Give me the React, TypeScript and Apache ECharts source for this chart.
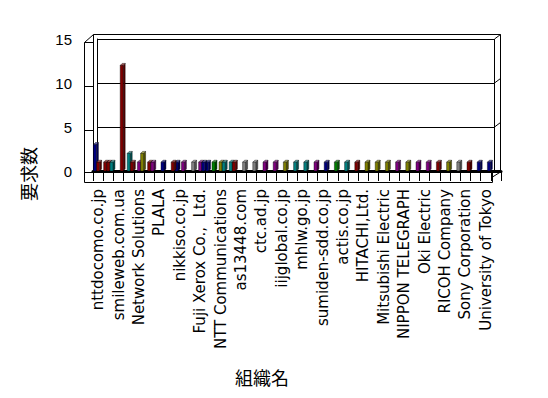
import React, { useEffect, useRef } from "react";
import * as echarts from "echarts";

// ---- data ----
const categories = [
  "nttdocomo.co.jp", "", "smileweb.com.ua", "", "Network Solutions", "",
  "PLALA", "", "nikkiso.co.jp", "", "Fuji Xerox Co.,  Ltd.", "",
  "NTT Communications", "", "as13448.com", "", "ctc.ad.jp", "",
  "iijglobal.co.jp", "", "mhlw.go.jp", "", "sumiden-sdd.co.jp", "",
  "actis.co.jp", "", "HITACHI,Ltd.", "", "Mitsubishi Electric", "",
  "NIPPON TELEGRAPH", "", "Oki Electric", "", "RICOH Company", "",
  "Sony Corporation", "", "University of Tokyo", "",
];

const yTicks = [0, 5, 10, 15];

const N = null;
// three bar slots per category
const slot0Values = [3, 1, N, N, N, N, N, N, 1, N, N, 1, N, N, N, N, N, N, N, N, N, N, N, N, N, N, N, N, N, N, N, N, N, N, N, N, N, N, N, N];
const slot0Colors = ["navy", "maroon", "", "", "", "", "", "", "navy", "", "", "navy", "", "", "", "", "", "", "", "", "", "", "", "", "", "", "", "", "", "", "", "", "", "", "", "", "", "", "", ""];
const slot1Values = [1, 1, N, 2, 1, 1, N, N, N, N, 1, N, 1, 1, N, N, N, N, N, N, N, N, N, N, N, N, N, N, N, N, N, N, N, N, N, N, N, N, N, N];
const slot1Colors = ["maroon", "maroon", "", "teal", "purple", "maroon", "", "", "", "", "purple", "", "olive", "teal", "", "", "", "", "", "", "", "", "", "", "", "", "", "", "", "", "", "", "", "", "", "", "", "", "", ""];
const slot2Values = [N, 1, 12, 1, 2, 1, 1, 1, 1, 1, 1, 1, 1, 1, 1, 1, 1, 1, 1, 1, 1, 1, 1, 1, 1, 1, 1, 1, 1, 1, 1, 1, 1, 1, 1, 1, 1, 1, 1, N];
const slot2Colors = ["", "teal", "maroon", "maroon", "olive", "purple", "navy", "maroon", "purple", "gray", "navy", "green", "teal", "maroon", "gray", "gray", "purple", "purple", "olive", "teal", "teal", "purple", "navy", "green", "teal", "maroon", "olive", "olive", "olive", "purple", "olive", "purple", "purple", "maroon", "olive", "gray", "maroon", "navy", "navy", ""];

const palette: Record<string, string> = {
  navy: "#000080",
  maroon: "#800000",
  olive: "#808000",
  purple: "#800080",
  teal: "#008080",
  gray: "#808080",
  green: "#008000",
};

function shade(hex: string, f: number): string {
  const n = parseInt(hex.slice(1), 16);
  let r = (n >> 16) & 255, g = (n >> 8) & 255, b = n & 255;
  if (f < 0) {
    r = Math.round(r * (1 + f)); g = Math.round(g * (1 + f)); b = Math.round(b * (1 + f));
  } else {
    r = Math.round(r + (255 - r) * f); g = Math.round(g + (255 - g) * f); b = Math.round(b + (255 - b) * f);
  }
  return "rgb(" + r + "," + g + "," + b + ")";
}

function toData(values: (number | null)[], colors: string[]) {
  const out: any[] = [];
  values.forEach((v, i) => {
    if (v != null) out.push({ value: [i, v], itemStyle: { color: palette[colors[i]] } });
  });
  return out;
}

const makeRender = (slot: number) => (params: any, api: any) => {
  const cat = api.value(0);
  const val = api.value(1);
  const top = api.coord([cat, val]);
  const base = api.coord([cat, 0]);
  const catW = api.size([1, 0])[0];
  const step = catW / 3.2;
  const bw = 3;
  const cx = top[0] + (slot - 1) * step;
  const x0 = cx - bw / 2;
  const x1 = cx + bw / 2;
  const dx = 2, dy = -2;
  const color = api.visual("color") as string;
  const yt = top[1], yb = base[1];
  return {
    type: "group",
    children: [
      {
        type: "polygon",
        shape: { points: [[x1, yt], [x1 + dx, yt + dy], [x1 + dx, yb + dy], [x1, yb]] },
        style: { fill: shade(color, -0.35), stroke: "#000", lineWidth: 0.4 },
      },
      {
        type: "polygon",
        shape: { points: [[x0, yt], [x0 + dx, yt + dy], [x1 + dx, yt + dy], [x1, yt]] },
        style: { fill: shade(color, 0.35), stroke: "#000", lineWidth: 0.4 },
      },
      {
        type: "rect",
        shape: { x: x0, y: yt, width: bw, height: yb - yt },
        style: { fill: color, stroke: "#000", lineWidth: 0.4 },
      },
    ],
  };
};

const L = (x1: number, y1: number, x2: number, y2: number) => ({
  type: "line",
  shape: { x1, y1, x2, y2 },
  style: { stroke: "#000", lineWidth: 1 },
  silent: true,
});

export default function App() {
  const ref = useRef<HTMLDivElement>(null);
  useEffect(() => {
    document.body.style.margin = "0";
    const chart = echarts.init(ref.current!, null, { renderer: "svg" });
    const labelFont = { fontFamily: "DejaVu Sans", fontSize: 15, color: "#000" };
    chart.setOption({
      animation: false,
      backgroundColor: "#fff",
      grid: [
        { left: 97, right: 54, top: 39, bottom: 227 },
        { left: 93, right: 47, top: 39, bottom: 227 },
      ],
      xAxis: [
        { gridIndex: 0, type: "value", show: false },
        {
          gridIndex: 1,
          type: "category",
          data: categories,
          boundaryGap: true,
          axisLine: { lineStyle: { color: "#000", width: 3 } },
          axisTick: { show: true, interval: 0, length: 10, lineStyle: { color: "#000", width: 1 } },
          axisLabel: { rotate: 90, interval: 0, margin: 18, ...labelFont },
          splitLine: { show: false },
        },
      ],
      yAxis: [
        {
          gridIndex: 0,
          type: "value",
          min: yTicks[0],
          max: yTicks[yTicks.length - 1],
          interval: 5,
          axisLine: { show: true, lineStyle: { color: "#000", width: 1 } },
          axisTick: { show: false },
          axisLabel: { margin: 25, fontFamily: "Liberation Sans", fontSize: 15, color: "#000", padding: [4, 0, 0, 0] },
          splitLine: { show: true, lineStyle: { color: "#000", width: 1 } },
        },
        { gridIndex: 1, type: "value", min: 0, max: 15, show: false },
      ],
      graphic: [
        // back frame
        L(93.5, 34.5, 500.5, 34.5),
        L(93.5, 34.5, 93.5, 171),
        L(500.5, 34.5, 500.5, 172),
        L(494.5, 39, 494.5, 171),
        L(494.5, 39, 500.5, 34.5),
        L(494.5, 83, 500.5, 78.5),
        L(494.5, 127, 500.5, 122.5),
        // left side wall / front axis
        L(84.5, 42.5, 84.5, 182.5),
        L(84.5, 42.5, 93.5, 34.5),
        L(84.5, 42.5, 93.5, 42.5),
        L(84.5, 86.5, 93.5, 86.5),
        L(84.5, 130.5, 93.5, 130.5),
        // floor front
        L(84.5, 172.5, 93.5, 172.5),
        L(84.5, 182.5, 492.5, 182.5),
        L(492.5, 172, 492.5, 182.5),
        L(492.5, 177, 500.5, 172),
        {
          type: "text",
          x: 28,
          y: 174,
          rotation: Math.PI / 2,
          style: { text: "要求数", fontFamily: "Noto Sans CJK JP", fontSize: 18, fill: "#000", align: "center", verticalAlign: "middle" },
        },
        {
          type: "text",
          x: 262,
          y: 377,
          style: { text: "組織名", fontFamily: "Noto Sans CJK JP", fontSize: 18, fill: "#000", align: "center", verticalAlign: "middle" },
        },
      ],
      series: [
        { type: "custom", xAxisIndex: 1, yAxisIndex: 1, clip: false, renderItem: makeRender(0), data: toData(slot0Values, slot0Colors), z: 3 },
        { type: "custom", xAxisIndex: 1, yAxisIndex: 1, clip: false, renderItem: makeRender(1), data: toData(slot1Values, slot1Colors), z: 4 },
        { type: "custom", xAxisIndex: 1, yAxisIndex: 1, clip: false, renderItem: makeRender(2), data: toData(slot2Values, slot2Colors), z: 5 },
      ],
    });
    return () => chart.dispose();
  }, []);
  return <div ref={ref} style={{ width: 548, height: 398 }} />;
}
